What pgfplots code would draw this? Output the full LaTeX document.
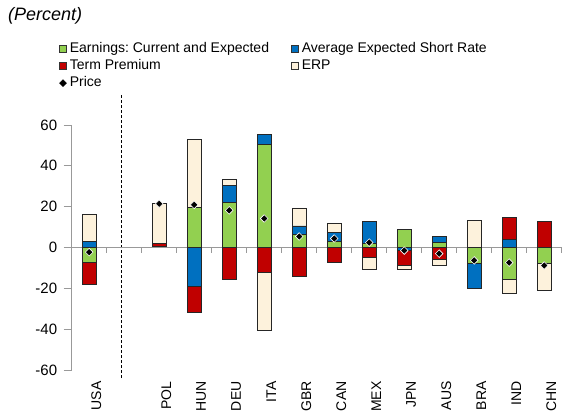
\documentclass[border=0pt]{standalone}
\usepackage{fontspec}
\setmainfont{Liberation Sans}
\usepackage{pgfplots}
\usepackage{pgfplotstable}
\pgfplotsset{compat=1.18}
\frenchspacing
\definecolor{cG}{RGB}{146,208,80}
\definecolor{cB}{RGB}{0,112,192}
\definecolor{cR}{RGB}{192,0,0}
\definecolor{cE}{RGB}{253,242,220}

\pgfplotstableread{
x G B R E
0 0 2.8 0 13.4
2 0.4 0 1.5 19.5
3 19.6 0 0 33.5
4 22.2 8.4 0 2.9
5 50.3 4.9 0 0
6 6.2 4.4 0 8.8
7 2.9 4.6 0 4.3
8 2.1 10.6 0 0
9 8.9 0 0 0
10 2.6 3.0 0 0
11 0 0 0 13.4
12 0 3.8 11.1 0
13 0 0 12.6 0
}\tabpos

\pgfplotstableread{
x G B R E
0 -7.4 0 -10.6 0
2 0 0 0 0
3 0 -18.8 -13.1 0
4 0 0 -15.8 0
5 0 0 -12.1 -28.7
6 0 0 -14.1 0
7 0 0 -7.4 0
8 0 0 -4.7 -5.9
9 0 -1.5 -7.3 -1.7
10 0 0 -5.6 -3.2
11 -8.0 -12.1 0 0
12 -15.4 0 0 -7.0
13 -8.0 0 0 -13.2
}\tabneg

\pgfplotstableread{
x P
0 -2.3
2 21.4
3 20.9
4 18.2
5 14.2
6 5.4
7 4.4
8 2.4
9 -1.5
10 -3.0
11 -6.3
12 -7.4
13 -8.8
}\tabprice

\pgfplotsset{
  basegeom/.style={
    at={(71.7pt,41pt)}, anchor=south west, scale only axis,
    width=490pt, height=245pt,
    xmin=-0.5, xmax=13.5, ymin=-60, ymax=60,
    clip=false, ybar stacked, bar width=14pt},
  seg/.style={fill=#1, draw=black!85, line width=0.7pt},
}

\begin{document}
\begin{tikzpicture}
\useasboundingbox (0pt,0pt) rectangle (563pt,411pt);
\node[anchor=north west, inner sep=0pt, font=\fontsize{18}{20}\selectfont\itshape] at (8pt,404pt) {(Percent)};
\begin{axis}[
  basegeom,
  axis x line*=bottom, axis y line*=left,
  x axis line style={draw=none},
  y axis line style={draw=gray!80, line width=0.8pt},
  xtick={0,2,3,4,5,6,7,8,9,10,11,12,13},
  xticklabels={USA,POL,HUN,DEU,ITA,GBR,CAN,MEX,JPN,AUS,BRA,IND,CHN},
  x tick style={draw=none},
  xticklabel style={rotate=90, anchor=east, font=\fontsize{14}{16}\selectfont, yshift=-7pt},
  ytick={-60,-40,-20,0,20,40,60},
  y tick style={draw=gray!80, line width=0.8pt},
  tick align=outside, major tick length=8pt,
  yticklabel style={font=\fontsize{15}{17}\selectfont, xshift=-3pt},
  /pgf/number format/assume math mode=true,
  legend columns=2,
  legend style={draw=none, fill=none, at={(-0.026,1.343)}, anchor=north west,
    inner sep=0pt, font=\fontsize{14}{16}\selectfont,
    nodes={inner xsep=3pt, inner ysep=1.5pt, text height=10pt, text depth=3pt},
    row sep=1pt,
    /tikz/every even column/.append style={column sep=19pt},
    cells={anchor=west}},
]
\draw[gray!80, line width=0.8pt] (axis cs:-0.5,0) -- (axis cs:13.5,0);
\pgfplotsinvokeforeach{0.5,1.5,...,13.5}{\draw[gray!80, line width=0.8pt] (axis cs:#1,0) -- ++(0pt,-6pt);}
\draw[black, line width=0.9pt, dash pattern=on 3pt off 2pt] (axis cs:0.93,-64) -- (axis cs:0.93,74.7);

\addlegendimage{legend image code/.code={\draw[fill=cG, draw=black!80, line width=0.7pt] (0pt,-3.5pt) rectangle (7pt,3.5pt);}}
\addlegendimage{legend image code/.code={\draw[fill=cB, draw=black!80, line width=0.7pt] (0pt,-3.5pt) rectangle (7pt,3.5pt);}}
\addlegendimage{legend image code/.code={\draw[fill=cR, draw=black!80, line width=0.7pt] (0pt,-3.5pt) rectangle (7pt,3.5pt);}}
\addlegendimage{legend image code/.code={\draw[fill=cE, draw=black!80, line width=0.7pt] (0pt,-3.5pt) rectangle (7pt,3.5pt);}}
\addlegendimage{legend image code/.code={\fill[black] (3.5pt,3.5pt) -- (7pt,0pt) -- (3.5pt,-3.5pt) -- (0pt,0pt) -- cycle;}}
\legend{Earnings: Current and Expected, Average Expected Short Rate, Term Premium, ERP, Price}

\addplot[seg=cG] table[x=x,y=G]{\tabpos};
\addplot[seg=cB] table[x=x,y=B]{\tabpos};
\addplot[seg=cR] table[x=x,y=R]{\tabpos};
\addplot[seg=cE] table[x=x,y=E]{\tabpos};
\end{axis}

\begin{axis}[basegeom, hide axis]
\addplot[seg=cG] table[x=x,y=G]{\tabneg};
\addplot[seg=cB] table[x=x,y=B]{\tabneg};
\addplot[seg=cR] table[x=x,y=R]{\tabneg};
\addplot[seg=cE] table[x=x,y=E]{\tabneg};
\addplot[stack plots=false, only marks, mark=square*, mark size=2.7pt,
  mark options={rotate=45, fill=black, draw=white, line width=0.6pt}] table[x=x,y=P]{\tabprice};
\end{axis}
\end{tikzpicture}
\end{document}
